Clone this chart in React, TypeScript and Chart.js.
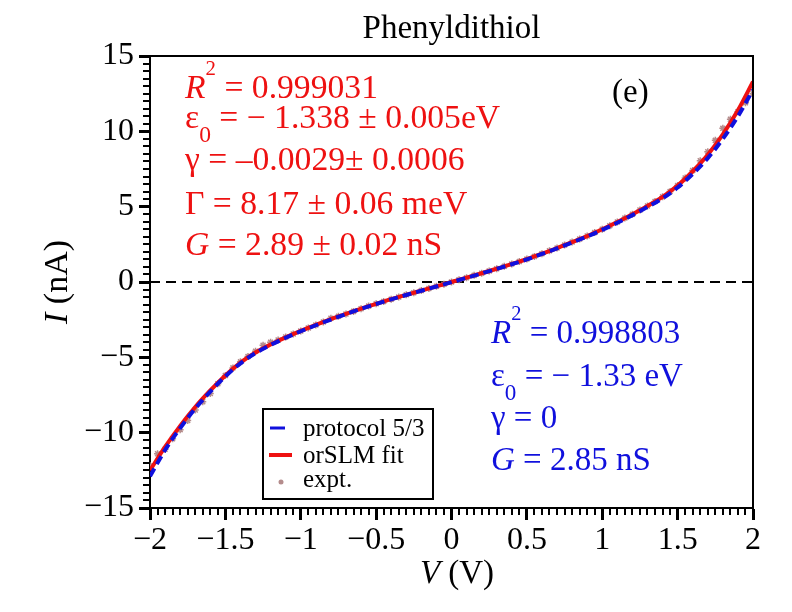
import React, { useRef, useEffect } from "react";
import { Chart, registerables } from "chart.js";

Chart.register(...registerables);

// bias voltage (V) for the two model curves
const V_MODEL = [
  -2.0, -1.9, -1.8, -1.7, -1.6, -1.5, -1.4, -1.3, -1.2, -1.1, -1.0, -0.9, -0.8, -0.7,
  -0.6, -0.5, -0.4, -0.3, -0.2, -0.1, 0.0, 0.1, 0.2, 0.3, 0.4, 0.5, 0.6, 0.7, 0.8, 0.9,
  1.0, 1.1, 1.2, 1.3, 1.4, 1.5, 1.6, 1.7, 1.8, 1.9, 2.0,
];

// orSLM fit current (nA)
const I_ORSLM = [
  -12.5, -10.95, -9.55, -8.3, -7.2, -6.2, -5.35, -4.68, -4.15, -3.68, -3.25, -2.85, -2.47, -2.12,
  -1.77, -1.45, -1.14, -0.85, -0.57, -0.29, 0.0, 0.29, 0.58, 0.88, 1.2, 1.52, 1.88, 2.25,
  2.65, 3.05, 3.5, 3.98, 4.5, 5.05, 5.65, 6.4, 7.35, 8.45, 9.8, 11.4, 13.3,
];

// protocol 5/3 current (nA)
const I_PROTOCOL = [
  -12.9, -11.15, -9.7, -8.4, -7.28, -6.26, -5.4, -4.72, -4.18, -3.7, -3.27, -2.87, -2.49, -2.13,
  -1.78, -1.46, -1.15, -0.86, -0.58, -0.3, -0.01, 0.28, 0.57, 0.87, 1.18, 1.5, 1.86, 2.23,
  2.62, 3.02, 3.46, 3.93, 4.44, 4.98, 5.55, 6.27, 7.17, 8.22, 9.5, 11.0, 12.75,
];

// experimental points
const V_EXPT = [
  -2.0, -1.95, -1.9, -1.85, -1.8, -1.75, -1.7, -1.65, -1.6, -1.55, -1.5, -1.45, -1.4, -1.35,
  -1.3, -1.25, -1.2, -1.15, -1.1, -1.05, -1.0, -0.95, -0.9, -0.85, -0.8, -0.75, -0.7, -0.65,
  -0.6, -0.55, -0.5, -0.45, -0.4, -0.35, -0.3, -0.25, -0.2, -0.15, -0.1, -0.05, 0.0, 0.05,
  0.1, 0.15, 0.2, 0.25, 0.3, 0.35, 0.4, 0.45, 0.5, 0.55, 0.6, 0.65, 0.7, 0.75, 0.8, 0.85,
  0.9, 0.95, 1.0, 1.05, 1.1, 1.15, 1.2, 1.25, 1.3, 1.35, 1.4, 1.45, 1.5, 1.55, 1.6, 1.65,
  1.7, 1.75, 1.8, 1.85, 1.9, 1.95, 2.0,
];
const I_EXPT = [
  -12.2, -11.4, -11.1, -10.4, -9.8, -9.2, -8.5, -7.95, -7.4, -6.75, -6.2, -5.7, -5.3, -4.95,
  -4.6, -4.2, -4.0, -3.85, -3.65, -3.45, -3.25, -3.05, -2.85, -2.65, -2.4, -2.28, -2.12, -1.95,
  -1.77, -1.6, -1.45, -1.29, -1.14, -1.0, -0.85, -0.71, -0.57, -0.43, -0.29, -0.15, 0.0, 0.15,
  0.29, 0.44, 0.58, 0.73, 0.88, 1.04, 1.2, 1.36, 1.52, 1.7, 1.88, 2.07, 2.25, 2.45, 2.65, 2.85,
  3.05, 3.28, 3.5, 3.74, 3.98, 4.24, 4.5, 4.78, 5.05, 5.35, 5.65, 6.0, 6.4, 6.9, 7.4, 8.05,
  8.65, 9.4, 10.2, 10.8, 11.3, 11.9, 12.5,
];

const V_RANGE = [-2, 2];
const I_RANGE = [-15, 15];

const SERIF = '"Liberation Serif", "Times New Roman", serif';
const RED = "#ee1111";
const BLUE = "#1010dd";
const EXPT = "#b48c8c";

type Seg = { t: string; it?: boolean; sup?: boolean; sub?: boolean };

const minus = (v: number) => (v < 0 ? "\u2212" + String(-v) : String(v));

function segFont(s: Seg, size: number) {
  const fs = s.sup ? size * 0.62 : s.sub ? size * 0.7 : size;
  return `${s.it ? "italic " : ""}${fs}px ${SERIF}`;
}

function drawRich(
  ctx: CanvasRenderingContext2D,
  segs: Seg[],
  x: number,
  y: number,
  size: number,
  color: string,
  sx = 1
) {
  ctx.save();
  ctx.translate(x, y);
  ctx.scale(sx, 1);
  ctx.fillStyle = color;
  ctx.textAlign = "left";
  ctx.textBaseline = "alphabetic";
  let cx = 0;
  for (const s of segs) {
    ctx.font = segFont(s, size);
    const dy = s.sup ? -size * 0.7 : s.sub ? size * 0.42 : 0;
    ctx.fillText(s.t, cx, dy);
    cx += ctx.measureText(s.t).width;
  }
  ctx.restore();
}

function richWidth(ctx: CanvasRenderingContext2D, segs: Seg[], size: number) {
  let w = 0;
  for (const s of segs) {
    ctx.font = segFont(s, size);
    w += ctx.measureText(s.t).width;
  }
  return w;
}

const RED_NOTES: Seg[][] = [
  [{ t: "R", it: true }, { t: "2", sup: true }, { t: " = 0.999031" }],
  [{ t: "\u03b5" }, { t: "0", sub: true }, { t: " = \u2212 1.338 \u00b1 0.005eV" }],
  [{ t: "\u03b3 = \u20130.0029\u00b1 0.0006" }],
  [{ t: "\u0393 = 8.17 \u00b1 0.06 meV" }],
  [{ t: "G", it: true }, { t: " = 2.89 \u00b1 0.02 nS" }],
];
const RED_BASE = [98, 128, 170, 214, 255];

const BLUE_NOTES: Seg[][] = [
  [{ t: "R", it: true }, { t: "2", sup: true }, { t: " = 0.998803" }],
  [{ t: "\u03b5" }, { t: "0", sub: true }, { t: " = \u2212 1.33 eV" }],
  [{ t: "\u03b3 = 0" }],
  [{ t: "G", it: true }, { t: " = 2.85 nS" }],
];
const BLUE_BASE = [343, 386, 428, 470];

const overlay = {
  id: "overlay",
  afterDraw(chart: any) {
    const { ctx, chartArea: a, scales } = chart;
    const xs = scales.x;
    const ys = scales.y;
    ctx.save();

    // frame (top, right)
    ctx.strokeStyle = "#000";
    ctx.lineWidth = 2;
    ctx.beginPath();
    ctx.moveTo(a.left, a.top);
    ctx.lineTo(a.right, a.top);
    ctx.lineTo(a.right, a.bottom);
    ctx.stroke();

    // minor ticks
    ctx.lineWidth = 2;
    ctx.beginPath();
    for (let i = 1; i < 80; i++) {
      if (i % 10 === 0) continue;
      const px = Math.round(xs.getPixelForValue(V_RANGE[0] + i * 0.05));
      ctx.moveTo(px, a.bottom);
      ctx.lineTo(px, a.bottom + 7);
    }
    for (let i = 1; i < 60; i++) {
      if (i % 10 === 0) continue;
      const py = Math.round(ys.getPixelForValue(I_RANGE[0] + i * 0.5));
      ctx.moveTo(a.left - 7, py);
      ctx.lineTo(a.left, py);
    }
    ctx.stroke();

    // title
    ctx.fillStyle = "#000";
    ctx.font = `33px ${SERIF}`;
    ctx.textAlign = "center";
    ctx.fillText("Phenyldithiol", (a.left + a.right) / 2, 38);

    // panel label
    drawRich(ctx, [{ t: "(e)" }], 612, 102, 33, "#000");

    RED_NOTES.forEach((segs, i) => drawRich(ctx, segs, 185, RED_BASE[i], 33, RED, 1.02));
    BLUE_NOTES.forEach((segs, i) => drawRich(ctx, segs, 491, BLUE_BASE[i], 33, BLUE, 1.0));

    // axis titles
    const yt: Seg[] = [{ t: "I", it: true }, { t: " (nA)" }];
    const yw = richWidth(ctx, yt, 34);
    ctx.save();
    ctx.translate(67, (a.top + a.bottom) / 2);
    ctx.rotate(-Math.PI / 2);
    drawRich(ctx, yt, -yw / 2, 0, 34, "#000");
    ctx.restore();
    const xt: Seg[] = [{ t: "V", it: true }, { t: " (V)" }];
    const xw = richWidth(ctx, xt, 33);
    drawRich(ctx, xt, 457 - xw / 2, 583, 33, "#000");

    // legend
    const lx = 263, ly = 409, lw = 170, lh = 90;
    ctx.fillStyle = "#fff";
    ctx.fillRect(lx, ly, lw, lh);
    ctx.strokeStyle = "#000";
    ctx.lineWidth = 2;
    ctx.strokeRect(lx, ly, lw, lh);
    const ds = chart.data.datasets;
    ctx.lineWidth = 3;
    ctx.strokeStyle = ds[0].borderColor;
    ctx.beginPath();
    ctx.moveTo(270, 428);
    ctx.lineTo(285, 428);
    ctx.stroke();
    ctx.lineWidth = 4;
    ctx.strokeStyle = ds[1].borderColor;
    ctx.beginPath();
    ctx.moveTo(269, 455);
    ctx.lineTo(292, 455);
    ctx.stroke();
    ctx.fillStyle = ds[2].pointBorderColor;
    ctx.beginPath();
    ctx.arc(281, 482, 2.5, 0, Math.PI * 2);
    ctx.fill();
    drawRich(ctx, [{ t: "protocol 5/3" }], 303, 436, 25, "#000");
    drawRich(ctx, [{ t: "orSLM fit" }], 303, 463, 25, "#000");
    drawRich(ctx, [{ t: "expt." }], 303, 487, 25, "#000");

    ctx.restore();
  },
};

export default function App() {
  const canvasRef = useRef<HTMLCanvasElement>(null);
  const chartRef = useRef<Chart | null>(null);

  useEffect(() => {
    if (!canvasRef.current) return;
    if (chartRef.current) chartRef.current.destroy();

    const pts = (xs: number[], ys: number[]) => xs.map((x, i) => ({ x, y: ys[i] }));

    chartRef.current = new Chart(canvasRef.current, {
      type: "line",
      data: {
        datasets: [
          {
            label: "protocol 5/3",
            data: pts(V_MODEL, I_PROTOCOL),
            borderColor: BLUE,
            borderWidth: 4,
            borderDash: [9, 5],
            pointRadius: 0,
            cubicInterpolationMode: "monotone",
            order: 0,
          },
          {
            label: "orSLM fit",
            data: pts(V_MODEL, I_ORSLM),
            borderColor: RED,
            borderWidth: 4,
            pointRadius: 0,
            cubicInterpolationMode: "monotone",
            order: 1,
          },
          {
            label: "expt.",
            data: pts(V_EXPT, I_EXPT),
            showLine: false,
            pointStyle: "star",
            pointRadius: 3.5,
            pointBorderWidth: 1.5,
            pointBorderColor: EXPT,
            pointBackgroundColor: EXPT,
            order: 2,
          },
          {
            label: "zero",
            data: pts(V_RANGE, [0, 0]),
            borderColor: "#000",
            borderWidth: 2,
            borderDash: [10, 6],
            pointRadius: 0,
            order: 3,
          },
        ],
      },
      options: {
        responsive: false,
        animation: false,
        layout: { padding: { left: 0, top: 56, right: 39, bottom: 0 } },
        plugins: {
          legend: { display: false },
          tooltip: { enabled: false },
          title: { display: false },
        },
        scales: {
          x: {
            type: "linear",
            min: V_RANGE[0],
            max: V_RANGE[1],
            afterFit: (s: any) => {
              s.height = 104;
            },
            border: { display: true, color: "#000", width: 2 },
            grid: {
              drawOnChartArea: false,
              drawTicks: true,
              tickLength: 12,
              tickWidth: 3,
              tickColor: "#000",
            },
            ticks: {
              stepSize: 0.5,
              color: "#000",
              padding: 1,
              maxRotation: 0,
              font: { family: SERIF, size: 32 },
              callback: (v: any) => minus(Number(v)),
            },
          },
          y: {
            type: "linear",
            min: I_RANGE[0],
            max: I_RANGE[1],
            afterFit: (s: any) => {
              s.width = 150;
            },
            border: { display: true, color: "#000", width: 2 },
            grid: {
              drawOnChartArea: false,
              drawTicks: true,
              tickLength: 11,
              tickWidth: 3,
              tickColor: "#000",
            },
            ticks: {
              stepSize: 5,
              color: "#000",
              padding: 5,
              font: { family: SERIF, size: 32 },
              callback: (v: any) => minus(Number(v)),
            },
          },
        },
      },
      plugins: [overlay],
    });

    return () => {
      if (chartRef.current) {
        chartRef.current.destroy();
        chartRef.current = null;
      }
    };
  }, []);

  return (
    <div style={{ position: "absolute", left: 0, top: 0, width: 792, height: 612, background: "#fff" }}>
      <canvas ref={canvasRef} width={792} height={612} style={{ display: "block" }}></canvas>
    </div>
  );
}
